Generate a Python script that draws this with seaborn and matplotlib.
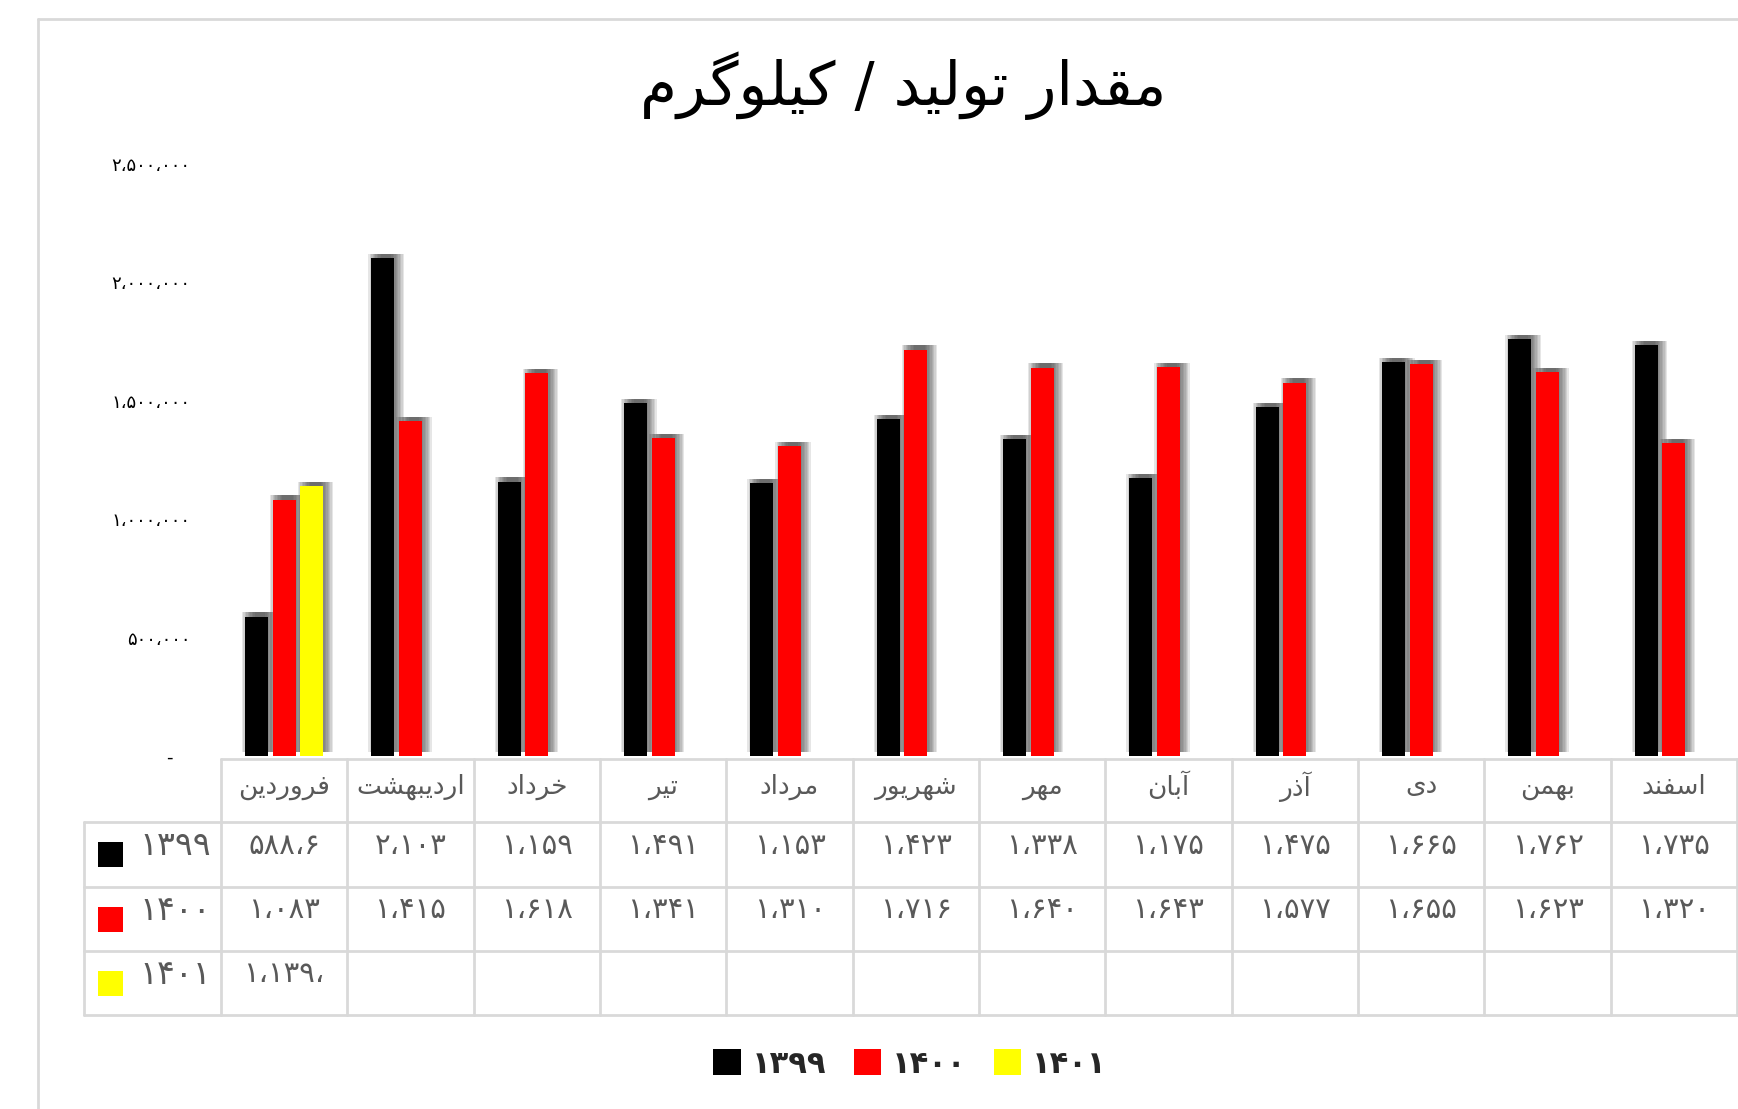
import numpy as np
import pandas as pd
import matplotlib
matplotlib.use('Agg')
import matplotlib.pyplot as plt
import matplotlib.patheffects as pe
from matplotlib.patches import Rectangle
from matplotlib.ticker import FuncFormatter
import seaborn as sns

sns.set_theme(style='white')
plt.rcParams['font.family'] = ['DejaVu Sans']

# ---- data (kg) ----
months = ['فروردین', 'اردیبهشت', 'خرداد', 'تیر', 'مرداد', 'شهریور',
          'مهر', 'آبان', 'آذر', 'دی', 'بهمن', 'اسفند']
years = ['1399', '1400', '1401']
colors = ['#000000', '#ff0000', '#ffff00']
v1399 = [588600, 2103000, 1159000, 1491000, 1153000, 1423000,
         1338000, 1175000, 1475000, 1665000, 1762000, 1735000]
v1400 = [1083000, 1415000, 1618000, 1341000, 1310000, 1716000,
         1640000, 1643000, 1577000, 1655000, 1623000, 1320000]
v1401 = [1139000]
# cell texts as shown in the data table (Excel clips them)
t1399 = ['588.6', '2,103', '1,159', '1,491', '1,153', '1,423',
         '1,338', '1,175', '1,475', '1,665', '1,762', '1,735']
t1400 = ['1,083', '1,415', '1,618', '1,341', '1,310', '1,716',
         '1,640', '1,643', '1,577', '1,655', '1,623', '1,320']
t1401 = ['1,139,']
title = 'مقدار تولید / کیلوگرم'

# ---- minimal persian shaping (matplotlib has no RTL layout) ----
def _four(c):
    return tuple(chr(c + i) for i in range(4))

def _two(c):
    return (chr(c), chr(c + 1), None, None)

FORMS = {
    'ا': _two(0xFE8D), 'آ': _two(0xFE81), 'د': _two(0xFEA9), 'ذ': _two(0xFEAB),
    'ر': _two(0xFEAD), 'ز': _two(0xFEAF), 'ژ': _two(0xFB8A), 'و': _two(0xFEED),
    'ب': _four(0xFE8F), 'پ': _four(0xFB56), 'ت': _four(0xFE95), 'ث': _four(0xFE99),
    'ج': _four(0xFE9D), 'چ': _four(0xFB7A), 'ح': _four(0xFEA1), 'خ': _four(0xFEA5),
    'س': _four(0xFEB1), 'ش': _four(0xFEB5), 'ص': _four(0xFEB9), 'ض': _four(0xFEBD),
    'ط': _four(0xFEC1), 'ظ': _four(0xFEC5), 'ع': _four(0xFEC9), 'غ': _four(0xFECD),
    'ف': _four(0xFED1), 'ق': _four(0xFED5), 'ک': _four(0xFB8E), 'گ': _four(0xFB92),
    'ل': _four(0xFEDD), 'م': _four(0xFEE1), 'ن': _four(0xFEE5), 'ه': _four(0xFEE9),
    'ی': _four(0xFBFC),
}

def fa(s):
    out = []
    for i, ch in enumerate(s):
        f = FORMS.get(ch)
        if f is None:
            out.append(ch)
            continue
        prev = s[i - 1] if i > 0 else ''
        nxt = s[i + 1] if i + 1 < len(s) else ''
        jp = prev in FORMS and FORMS[prev][2] is not None
        jn = f[2] is not None and nxt in FORMS
        if jp and jn:
            out.append(f[3])
        elif jn:
            out.append(f[2])
        elif jp:
            out.append(f[1])
        else:
            out.append(f[0])
    return ''.join(out)[::-1]

DIG = str.maketrans('0123456789,.', '۰۱۲۳۴۵۶۷۸۹،،')

def fd(s):
    return s.translate(DIG)

# ---- figure ----
W, H = 1738, 1109
fig = plt.figure(figsize=(W / 100, H / 100), dpi=100)

# overlay in pixel coordinates for frame, title, table and legend
ov = fig.add_axes([0, 0, 1, 1])
ov.set_xlim(0, W)
ov.set_ylim(H, 0)
ov.axis('off')

grid = '#d9d9d9'
ov.plot([38, W], [19, 19], color=grid, lw=2)
ov.plot([38, 38], [19, H], color=grid, lw=2)
ov.text(903, 86, fa(title), ha='center', va='center', fontsize=43, color='black')

# bar axes
x0, x1 = 221, 1737
yb, yt = 756, 164
ax = fig.add_axes([x0 / W, 1 - yb / H, (x1 - x0) / W, (yb - yt) / H])
ax.set_facecolor('none')

df = pd.DataFrame({
    'month': months * 2 + months[:1],
    'year': ['1399'] * 12 + ['1400'] * 12 + ['1401'],
    'value': v1399 + v1400 + v1401,
})
sns.barplot(data=df, x='month', y='value', hue='year', order=months,
            hue_order=years, palette=colors, width=0.66, gap=0.17,
            saturation=1, linewidth=0, legend=False, ax=ax, zorder=3)

# soft drop shadow, like the Excel one (stacked offset copies)
shadow = [pe.SimplePatchShadow(offset=(o, 3), shadow_rgbFace='#404040', alpha=0.13)
          for o in (-2, -1, 0, 1, 2, 3, 4, 5, 6, 7)]
for p in ax.patches:
    p.set_path_effects(shadow + [pe.Normal()])

ax.set_xlim(-0.5, 11.5)
ax.set_ylim(0, 2500000)
ax.set_yticks(np.arange(0, 2500001, 500000))
ax.yaxis.set_major_formatter(FuncFormatter(lambda v, _: '-   ' if v == 0 else fd(f'{v:,.0f}')))
ax.tick_params(axis='y', length=0, pad=22, labelsize=13, labelcolor='black')
ax.set_xticks([])
ax.set_xlabel('')
ax.set_ylabel('')
for s in ax.spines.values():
    s.set_visible(False)

# ---- data table ----
cw = (x1 - x0) / 12
rows = [759, 822, 887, 951, 1015]
tc = '#595959'
ov.plot([x0, x1], [rows[0], rows[0]], color=grid, lw=2)
for r in rows[1:]:
    ov.plot([84, x1], [r, r], color=grid, lw=2)
ov.plot([84, 84], [rows[1], rows[-1]], color=grid, lw=2)
for i in range(13):
    xx = x0 + i * cw
    ov.plot([xx, xx], [rows[0], rows[-1]], color=grid, lw=2)

for i, m in enumerate(months):
    ov.text(x0 + (i + 0.5) * cw, (rows[0] + rows[1]) / 2 - 4, fa(m),
            ha='center', va='center', fontsize=19, color=tc)

for r, (yr, col, texts) in enumerate(zip(years, colors, [t1399, t1400, t1401])):
    yc = (rows[r + 1] + rows[r + 2]) / 2
    ov.add_patch(Rectangle((98, yc - 12.5), 25, 25, facecolor=col, edgecolor='none'))
    ov.text(211, yc - 9, fd(yr), ha='right', va='center', fontsize=24, color=tc)
    for i, t in enumerate(texts):
        ov.text(x0 + (i + 0.5) * cw, yc - 9, fd(t), ha='center', va='center',
                fontsize=21, color=tc)

# ---- legend ----
handles = [Rectangle((0, 0), 1, 1, facecolor=c, edgecolor='none') for c in colors]
fig.legend(handles, [fd(y) for y in years], loc='center', ncol=3,
           bbox_to_anchor=(910 / W, 1 - 1064 / H), frameon=False,
           prop={'size': 22, 'weight': 'bold'}, handlelength=0.9, handleheight=0.9,
           handletextpad=0.35, columnspacing=0.9)

fig.savefig('out.png', dpi=100)
